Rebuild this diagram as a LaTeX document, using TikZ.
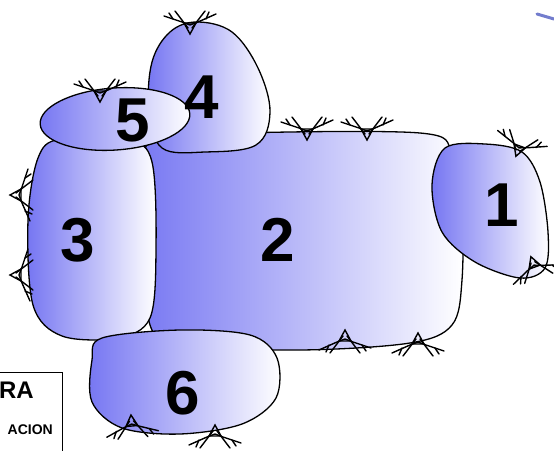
\documentclass[tikz,border=0pt]{standalone}
\usepackage{fontspec}
\setmainfont{Liberation Sans}
\begin{document}
\begin{tikzpicture}[x=1pt,y=-1pt,
  blob/.style={draw=black,line width=1.3pt,left color={rgb,255:red,118;green,118;blue,242},right color=white},
  num/.style={font=\fontsize{62}{62}\selectfont\bfseries,inner sep=0pt},
  stitch/.pic={
    \draw[line width=1.4pt,line cap=round] (-26,-6) -- (-8,0) -- (0,3) -- (8,0) -- (26,-8);
    \draw[line width=1.4pt,line cap=round] (-15,-11) -- (-2,6) (15,-11) -- (2,6);
    \draw[line width=1.4pt] (-6,1) -- (6,1) -- (0,12) -- cycle;
    \draw[line width=1.4pt,line cap=round] (-21,-9) -- (-17,-3) (19,-10) -- (16,-3);
  }]
\useasboundingbox (0,0) rectangle (554,450);
% shape 2
\path[blob] plot[smooth cycle,tension=0.55] coordinates {(150,140) (240,133) (420,133) (452,152) (462,200) (462,280) (452,325) (410,343) (300,350) (185,345) (150,325) (146,230)};
% shape 3
\path[blob] plot[smooth cycle,tension=0.55] coordinates {(60,139) (128,140) (152,162) (156,250) (150,318) (118,338) (62,336) (33,305) (28,220) (38,158)};
% shape 4
\path[blob] plot[smooth cycle,tension=0.6] coordinates {(197,22) (232,32) (258,68) (270,112) (256,145) (205,152) (162,148) (149,110) (152,62) (170,32)};
% shape 5
\path[blob,rotate around={4:(115,119)}] (115,119) ellipse [x radius=75,y radius=31];
% shape 1
\path[blob] plot[smooth cycle,tension=0.55] coordinates {(445,148) (485,144) (522,152) (540,182) (548,232) (545,268) (520,278) (475,262) (442,232) (432,185)};
% shape 6
\path[blob] plot[smooth cycle,tension=0.55] coordinates {(102,338) (180,330) (250,335) (277,358) (276,398) (242,424) (180,434) (122,428) (92,402) (92,360)};
% numbers
\node[num] (n1) at (502,205) {1};
\node[num] (n2) at (278,240) {2};
\node[num] (n3) at (78,240) {3};
\node[num] (n4) at (202,97) {4};
\node[num] (n5) at (133,120) {5};
\node[num] (n6) at (183,393) {6};
% stitches
\pic at (190,22) {stitch};
\pic at (100,90) {stitch};
\pic at (307,128) {stitch};
\pic at (367,128) {stitch};
\pic[rotate=-20] at (520,145) {stitch};
\pic[rotate=200] at (535,268) {stitch};
\pic[rotate=-90] at (22,195) {stitch};
\pic[rotate=-90] at (22,275) {stitch};
\pic[rotate=180] at (345,342) {stitch};
\pic[rotate=180] at (418,345) {stitch};
\pic[rotate=185] at (132,427) {stitch};
\pic[rotate=180] at (215,437) {stitch};
% legend box
\draw[line width=1pt] (-5,372) rectangle (62,460);
\node[anchor=east,inner sep=0pt,font=\fontsize{24}{24}\selectfont\bfseries] (ra) at (34,390) {RA};
\node[anchor=east,inner sep=0pt,font=\fontsize{14}{14}\selectfont\bfseries] (acion) at (53,430) {ACION};
% top right mark
\draw[line width=3pt,line cap=round,color={rgb,255:red,115;green,125;blue,205}] (537,14) -- (554,19);
\end{tikzpicture}
\end{document}
